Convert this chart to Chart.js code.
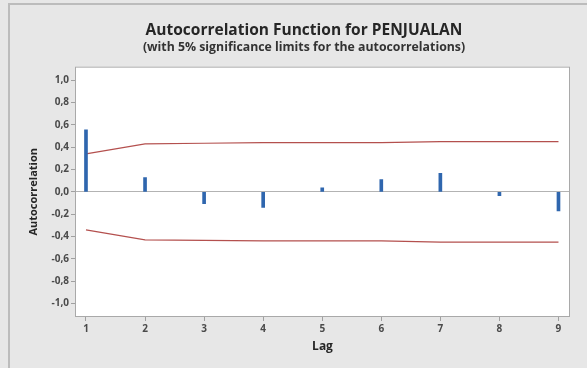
<!DOCTYPE html>
<html>
<head>
<meta charset="utf-8">
<script src="https://cdn.jsdelivr.net/npm/chart.js@4.4.1/dist/chart.umd.min.js"></script>
<style>
  html, body { margin: 0; padding: 0; background: #e7e7e7; }
  #wrap { position: relative; width: 587px; height: 368px; overflow: hidden; }
  #frame { position: absolute; left: 8px; top: 3px; width: 620px; height: 400px;
           border-left: 2px solid #bcbcbc; border-top: 2px solid #bcbcbc; }
  canvas { position: absolute; left: 0; top: 0; }
</style>
</head>
<body>
<div id="wrap">
  <div id="frame"></div>
  <canvas id="acf" width="587" height="368"></canvas>
</div>
<script>
// lags and autocorrelations
const lags = [1, 2, 3, 4, 5, 6, 7, 8, 9];
const acf = [0.556, 0.128, -0.107, -0.14, 0.035, 0.11, 0.165, -0.035, -0.17];
// 5% significance limits (upper; lower is the mirror)
const upperLimit = [0.34, 0.43, 0.435, 0.44, 0.44, 0.44, 0.45, 0.45, 0.45];
const lowerLimit = upperLimit.map(v => -v);
const yTicks = [-1.0, -0.8, -0.6, -0.4, -0.2, 0.0, 0.2, 0.4, 0.6, 0.8, 1.0];

const FONT = "'Open Sans', 'DejaVu Sans', sans-serif";

const plotFrame = {
  id: 'plotFrame',
  beforeDraw(chart) {
    const { ctx, chartArea: a } = chart;
    ctx.save();
    ctx.fillStyle = '#ffffff';
    ctx.fillRect(a.left, a.top, a.right - a.left, a.bottom - a.top);
    ctx.restore();
  },
  beforeDatasetsDraw(chart) {
    const { ctx, chartArea: a } = chart;
    ctx.save();
    ctx.strokeStyle = '#a9a9a9';
    ctx.lineWidth = 1;
    ctx.strokeRect(a.left + 0.5, a.top + 0.5, a.right - a.left - 1, a.bottom - a.top - 1);
    ctx.restore();
  }
};

const limitLine = (data) => ({
  type: 'line',
  data: lags.map((x, i) => ({ x, y: data[i] })),
  borderColor: '#b4504e',
  borderWidth: 1.2,
  pointRadius: 0,
  fill: false,
  tension: 0,
});

new Chart(document.getElementById('acf'), {
  type: 'bar',
  data: {
    datasets: [
      {
        data: lags.map((x, i) => ({ x, y: acf[i] })),
        backgroundColor: '#2f66ae',
        barThickness: 3,
        grouped: false,
      },
      limitLine(upperLimit),
      limitLine(lowerLimit),
    ]
  },
  options: {
    responsive: false,
    animation: false,
    events: [],
    layout: { padding: { left: 38, right: 17, top: 0, bottom: 0 } },
    plugins: {
      legend: { display: false },
      tooltip: { enabled: false },
      title: {
        display: true,
        text: 'Autocorrelation Function for PENJUALAN',
        color: '#262626',
        font: { family: FONT, size: 15.5, weight: 'bold', lineHeight: 1.2 },
        padding: { top: 21.5, bottom: 0 },
      },
      subtitle: {
        display: true,
        text: '(with 5% significance limits for the autocorrelations)',
        color: '#333333',
        font: { family: FONT, size: 12.3, weight: 'bold', lineHeight: 1.1 },
        padding: { top: 0.5, bottom: 12.5 },
      },
    },
    scales: {
      x: {
        type: 'linear',
        offset: false,
        min: 0.814,
        max: 9.195,
        afterFit: (s) => { s.height = 51; },
        afterBuildTicks: (s) => { s.ticks = lags.map(v => ({ value: v })); },
        border: { display: false },
        grid: { offset: false, drawOnChartArea: false, tickLength: 4, tickColor: '#a0a0a0' },
        ticks: { color: '#4a4a4a', padding: 2, font: { family: FONT, size: 10, weight: 'bold' } },
        title: {
          display: true,
          text: 'Lag',
          color: '#262626',
          font: { family: FONT, size: 12, weight: 'bold', lineHeight: 1.2 },
          padding: { top: 0, bottom: 13.8 },
        },
      },
      y: {
        min: -1.121,
        max: 1.121,
        afterFit: (s) => { s.width = 37; },
        afterBuildTicks: (s) => { s.ticks = yTicks.map(v => ({ value: v })); },
        border: { display: false },
        grid: {
          tickLength: 4,
          tickColor: '#a0a0a0',
          color: (c) => (c.tick && Math.abs(c.tick.value) < 1e-9 ? '#b3b3b3' : 'rgba(0,0,0,0)'),
        },
        ticks: {
          color: '#4a4a4a',
          padding: 2,
          font: { family: FONT, size: 10, weight: 'bold' },
          callback: (v) => v.toFixed(1).replace('.', ','),
        },
        title: {
          display: true,
          text: 'Autocorrelation',
          color: '#262626',
          font: { family: FONT, size: 11, weight: 'bold', lineHeight: 1.2 },
          padding: { top: -10.6, bottom: 0 },
        },
      },
    },
  },
  plugins: [plotFrame],
});
</script>
</body>
</html>
